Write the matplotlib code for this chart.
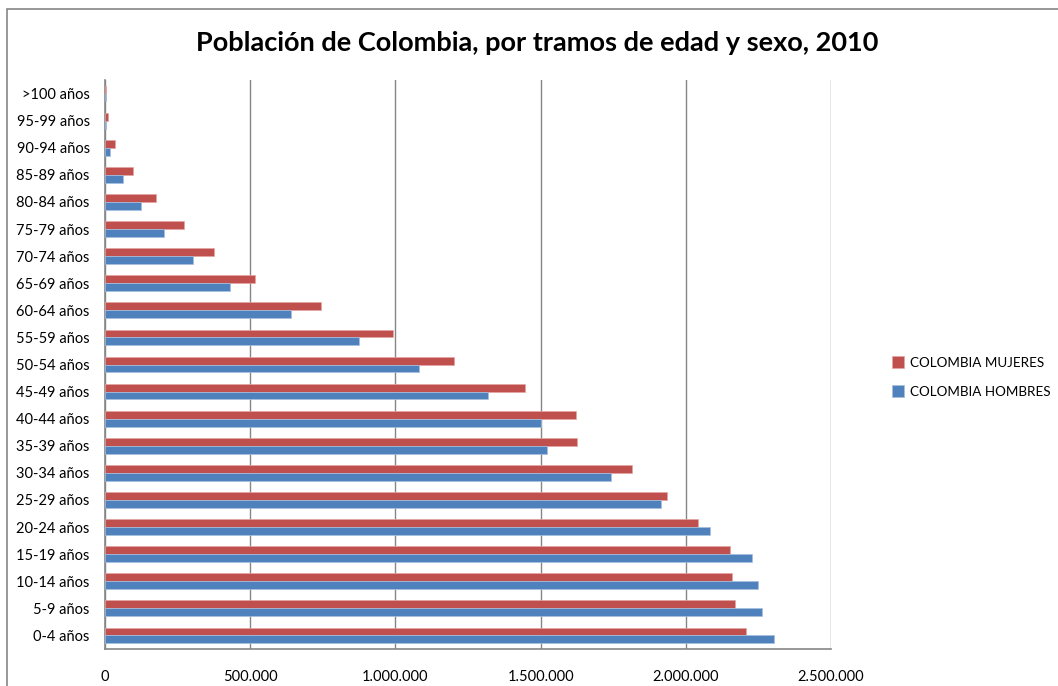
import numpy as np
import matplotlib.pyplot as plt
from matplotlib.patches import Rectangle
from matplotlib.ticker import FuncFormatter

plt.rcParams['font.family'] = ['Lato', 'DejaVu Sans']

# age groups, bottom to top
grupos = ['0-4 años', '5-9 años', '10-14 años', '15-19 años', '20-24 años',
          '25-29 años', '30-34 años', '35-39 años', '40-44 años', '45-49 años',
          '50-54 años', '55-59 años', '60-64 años', '65-69 años', '70-74 años',
          '75-79 años', '80-84 años', '85-89 años', '90-94 años', '95-99 años',
          '>100 años']

hombres = [2304000, 2263000, 2248000, 2227000, 2082000, 1915000, 1744000,
           1522000, 1501000, 1320000, 1080000, 873000, 641000, 430000,
           302000, 204000, 125000, 61000, 18000, 5000, 4000]

mujeres = [2208000, 2169000, 2160000, 2152000, 2042000, 1936000, 1816000,
           1627000, 1623000, 1445000, 1201000, 992000, 743000, 515000,
           376000, 272000, 176000, 95000, 36000, 10000, 5000]

xticks = [0, 500000, 1000000, 1500000, 2000000, 2500000]

c_muj = '#C0504D'
c_hom = '#4F81BD'
gris = '#868686'

fig = plt.figure(figsize=(10.58, 6.86), dpi=100)

# chart area border (runs off the right and bottom edges)
fig.patches.append(Rectangle((7 / 1058, -0.1), 1.2, (686 - 9) / 686 + 0.1,
                             transform=fig.transFigure, fill=False,
                             edgecolor=gris, linewidth=1.2))

ax = fig.add_axes([105 / 1058, (686 - 649) / 686, 726 / 1058, 569 / 686])

y = np.arange(len(grupos))
h = 0.29
ax.barh(y + h / 2, mujeres, height=h, color=c_muj, edgecolor='#E6A5A3',
        linewidth=0.5, label='COLOMBIA MUJERES', zorder=3)
ax.barh(y - h / 2, hombres, height=h, color=c_hom, edgecolor='#A7C0DE',
        linewidth=0.5, label='COLOMBIA HOMBRES', zorder=3)

ax.set_xlim(0, 2500000)
ax.set_ylim(-0.5, len(grupos) - 0.5)
ax.set_xticks(xticks)
ax.xaxis.set_major_formatter(FuncFormatter(lambda v, p: f'{int(v):,}'.replace(',', '.')))
ax.set_yticks(y)
ax.set_yticklabels(grupos)
ax.tick_params(axis='both', length=0, labelsize=10.5, colors='black')
ax.tick_params(axis='x', pad=15)
ax.tick_params(axis='y', pad=11)

ax.grid(axis='x', color=gris, linewidth=1, zorder=0)
for s in ['top', 'right']:
    ax.spines[s].set_visible(False)
for s in ['left', 'bottom']:
    ax.spines[s].set_color(gris)
    ax.spines[s].set_linewidth(1.2)

fig.text(537 / 1058, (686 - 43) / 686,
         'Población de Colombia, por tramos de edad y sexo, 2010',
         ha='center', va='center', fontsize=19.5, fontweight='bold')

fig.legend(loc='center left', bbox_to_anchor=(885 / 1058, (686 - 377) / 686),
           frameon=False, fontsize=9.7, handlelength=0.9, handleheight=0.9,
           handletextpad=0.45, labelspacing=1.25, borderpad=0)

fig.savefig('out.png', dpi=100)
